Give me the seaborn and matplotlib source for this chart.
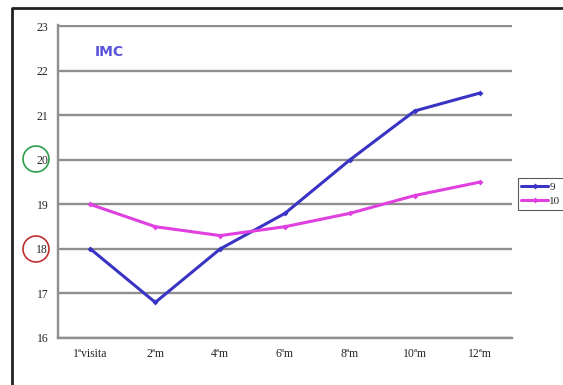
import numpy as np
import pandas as pd
import matplotlib
matplotlib.use('Agg')
import matplotlib.pyplot as plt
import seaborn as sns
from matplotlib.patches import Ellipse
from matplotlib.lines import Line2D

# data
visits = ['1ªvisita', '2ªm', '4ªm', '6ªm', '8ªm', '10ªm', '12ªm']
imc_9 = [18.0, 16.8, 18.0, 18.8, 20.0, 21.1, 21.5]
imc_10 = [19.0, 18.5, 18.3, 18.5, 18.8, 19.2, 19.5]
series_names = ['9', '10']
y_ticks = [16, 17, 18, 19, 20, 21, 22, 23]

df = pd.DataFrame({
    'pos': list(range(len(visits))) * 2,
    'imc': imc_9 + imc_10,
    'serie': [series_names[0]] * len(visits) + [series_names[1]] * len(visits),
})

sns.set_style('white')
plt.rcParams['font.family'] = ['Liberation Serif', 'DejaVu Serif']

fig = plt.figure(figsize=(5.63, 3.85), dpi=100)
ax = fig.add_axes([58 / 563, 1 - 338 / 385, (512 - 58) / 563, (338 - 25) / 385])

palette = {'9': '#3a34c4', '10': '#e040e0'}
sns.lineplot(data=df, x='pos', y='imc', hue='serie', palette=palette, ax=ax,
             marker='D', markersize=3, markeredgewidth=0, linewidth=2.2, legend=True)

ax.set_xlim(-0.5, len(visits) - 0.5)
ax.set_ylim(16, 23.03)
ax.set_yticks(y_ticks)
ax.set_yticklabels([str(v) for v in y_ticks], fontsize=8.5)
ax.yaxis.grid(True, color='#8f8f8f', linewidth=1.7)
ax.set_axisbelow(True)

# category labels at centres, tick marks at the boundaries (Excel style)
ax.set_xticks(np.arange(-0.5, len(visits), 1.0))
ax.set_xticklabels([''] * (len(visits) + 1))
ax.set_xticks(np.arange(len(visits)), minor=True)
ax.set_xticklabels(visits, minor=True, fontsize=8.5)
ax.tick_params(axis='x', which='minor', length=0, pad=7)
ax.tick_params(axis='x', which='major', direction='inout', length=5, color='#707070')
ax.tick_params(axis='y', direction='out', length=4, color='#707070', pad=3)

for s in ['top', 'right']:
    ax.spines[s].set_visible(False)
for s in ['left', 'bottom']:
    ax.spines[s].set_color('#8f8f8f')
    ax.spines[s].set_linewidth(1.7)

ax.set_xlabel('')
ax.set_ylabel('')

ax.text(0.08, 0.9, 'IMC', transform=ax.transAxes, color='#5a55d8',
        fontsize=10, family='DejaVu Sans', fontweight='bold')

leg = ax.legend(loc='center left', bbox_to_anchor=(1.0, 0.46), frameon=True,
                fontsize=8, handlelength=2.4, handletextpad=0.1,
                borderpad=0.35, labelspacing=0.35, fancybox=False)
leg.get_frame().set_edgecolor('#333333')
leg.get_frame().set_linewidth(0.8)

# circled tick labels
fig.patches.append(Ellipse((36 / 563, 1 - 159 / 385), 26 / 563, 26 / 385,
                           transform=fig.transFigure, fill=False,
                           edgecolor='#2e9e4a', linewidth=1.2))
fig.patches.append(Ellipse((36 / 563, 1 - 249 / 385), 26 / 563, 26 / 385,
                           transform=fig.transFigure, fill=False,
                           edgecolor='#c03030', linewidth=1.2))

# outer frame: only top and left edges are visible in the reference
fig.lines.append(Line2D([12 / 563, 12 / 563, 1.0], [0.0, 1 - 8 / 385, 1 - 8 / 385],
                        transform=fig.transFigure, color='#222222', linewidth=2))

fig.savefig('out.png', dpi=100)
